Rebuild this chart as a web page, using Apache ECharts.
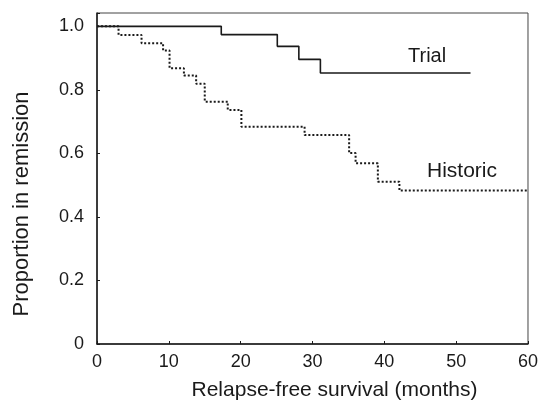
<!DOCTYPE html>
<html>
<head>
<meta charset="utf-8">
<script src="https://cdn.jsdelivr.net/npm/echarts@6/dist/echarts.min.js"></script>
<style>
  html, body { margin: 0; padding: 0; background: #fff; }
  #chart { width: 541px; height: 407px; }
</style>
</head>
<body>
<div id="chart"></div>
<script>
// months at which each curve steps down, and the proportion after the step
var trialTimes = [0, 17.3, 25.1, 28.1, 31.1, 52];
var trialSurv = [1.0, 0.974, 0.937, 0.896, 0.853, 0.853];
var historicTimes = [0, 3.0, 6.2, 9.2, 10.1, 12.1, 13.8, 15.0, 18.2, 20.1, 28.9, 35.1, 36.0, 39.1, 42.1, 60];
var historicSurv = [1.0, 0.973, 0.947, 0.924, 0.868, 0.845, 0.819, 0.763, 0.737, 0.684, 0.658, 0.601, 0.569, 0.511, 0.483, 0.483];
var xTicks = [0, 10, 20, 30, 40, 50, 60];
var yTicks = [0, 0.2, 0.4, 0.6, 0.8, 1.0];

function pairs(xs, ys) {
  return xs.map(function (x, i) { return [x, ys[i]]; });
}

var font = 'Liberation Sans, Arial, sans-serif';
var ink = '#1a1a1a';
var chart = echarts.init(document.getElementById('chart'));

chart.setOption({
  animation: false,
  backgroundColor: '#fff',
  grid: {
    left: 97,
    right: 12,
    top: 13,
    bottom: 63,
    show: true,
    borderColor: '#444',
    borderWidth: 1
  },
  xAxis: {
    type: 'value',
    min: 0,
    max: 60,
    interval: 10,
    name: 'Relapse-free survival (months)',
    nameLocation: 'middle',
    nameGap: 36,
    nameTextStyle: { fontFamily: font, fontSize: 21, color: ink, padding: [0, 0, 0, 44] },
    axisLine: { lineStyle: { color: ink, width: 1.5 } },
    axisTick: { inside: true, length: 3, lineStyle: { color: ink } },
    axisLabel: {
      fontFamily: font, fontSize: 18, color: ink, margin: 9,
      formatter: function (v) { return xTicks.indexOf(v) >= 0 ? String(v) : ''; }
    },
    splitLine: { show: false }
  },
  yAxis: {
    type: 'value',
    min: 0,
    max: 1.042,
    interval: 0.2,
    axisLine: { lineStyle: { color: ink, width: 1.5 } },
    axisTick: { inside: true, length: 3, lineStyle: { color: ink } },
    axisLabel: {
      fontFamily: font, fontSize: 18, color: ink, margin: 13,
      formatter: function (v) {
        var hit = yTicks.filter(function (t) { return Math.abs(t - v) < 1e-6; });
        if (!hit.length) return '';
        return v === 0 ? '0' : v.toFixed(1);
      }
    },
    splitLine: { show: false }
  },
  series: [
    {
      name: 'Historic',
      type: 'line',
      step: 'end',
      symbol: 'none',
      data: pairs(historicTimes, historicSurv),
      lineStyle: { color: ink, width: 2, type: [2, 2] }
    },
    {
      name: 'Trial',
      type: 'line',
      step: 'end',
      symbol: 'none',
      data: pairs(trialTimes, trialSurv),
      lineStyle: { color: ink, width: 1.6, type: 'solid' }
    }
  ],
  graphic: [
    {
      type: 'text', x: 22, y: 204, rotation: Math.PI / 2,
      style: { text: 'Proportion in remission', font: '22px ' + font, fill: ink, align: 'center', verticalAlign: 'middle' }
    },
    { type: 'text', left: 408, top: 46, style: { text: 'Trial', font: '20px ' + font, fill: ink } },
    { type: 'text', left: 427, top: 161, style: { text: 'Historic', font: '21px ' + font, fill: ink } }
  ]
});
</script>
</body>
</html>
